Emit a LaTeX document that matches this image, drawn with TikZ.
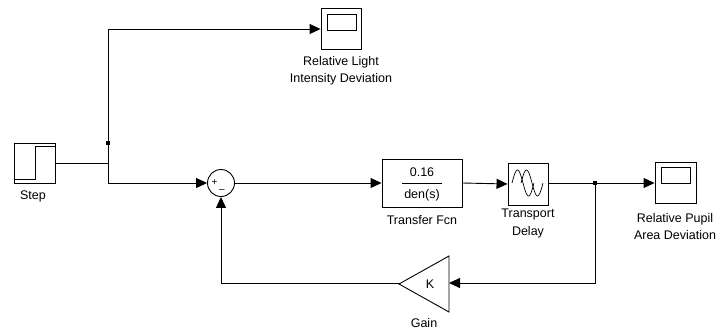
\documentclass[tikz,border=0pt]{standalone}
\usepackage{fontspec}
\setmainfont{Liberation Sans}
\usetikzlibrary{arrows.meta}
\begin{document}
\begin{tikzpicture}[x=1pt,y=-1pt,line width=0.9pt,
  blockbox/.style={draw,rectangle,inner sep=0pt},
  lbl/.style={font=\fontsize{12.5}{17.5}\selectfont,align=center,inner sep=0pt},
  conn/.style={-{Triangle[length=11pt 0,width=10pt 0]}},
  bdot/.style={fill,rectangle,minimum size=3.5pt,inner sep=0pt},
  icon/.style={line width=0.7pt}]
\useasboundingbox (0,0) rectangle (721,335);

% blocks
\node[blockbox,minimum width=41pt,minimum height=40pt] (step) at (34.5,163) {};
\draw[icon] (14,179) -- (35,179) -- (35,146) -- (55,146);
\node[lbl] (steplbl) at (33,196) {Step};

\node[blockbox,minimum width=40pt,minimum height=41pt] (sc1) at (341,29) {};
\draw[icon] (327,14) rectangle (356,30);
\node[lbl] (sc1lbl) at (341,71) {Relative Light\\Intensity Deviation};

\node[draw,circle,minimum size=27pt,inner sep=0pt] (sum) at (221,183) {};
\node[font=\fontsize{10}{10}\selectfont,inner sep=0pt] (plus) at (214.5,183) {+};
\node[font=\fontsize{10}{10}\selectfont,inner sep=0pt] (minus) at (222,191) {--};

\node[blockbox,minimum width=80pt,minimum height=48pt] (tf) at (422,183) {};
\node[lbl] (num) at (422,172) {0.16};
\draw[line width=0.8pt] (402,183) -- (442,183);
\node[lbl] (den) at (422,195.5) {den(s)};
\node[lbl] (tflbl) at (422,220) {Transfer Fcn};

\node[blockbox,minimum width=40pt,minimum height=42pt] (td) at (528,184) {};
\draw[icon,domain=0:360,samples=40,smooth] plot ({512+\x/360*22},{183-13*sin(\x)});
\draw[icon,domain=0:360,samples=40,smooth] plot ({521+\x/360*22},{183-13*sin(\x)});
\node[lbl] (tdlbl) at (528,223.5) {Transport\\Delay};

\node[blockbox,minimum width=41pt,minimum height=41pt] (sc2) at (675.5,182.5) {};
\draw[icon] (661,167) rectangle (690,183);
\node[lbl] (sc2lbl) at (675,226.5) {Relative Pupil\\Area Deviation};

\draw (449,256) -- (449,312) -- (399,284) -- cycle;
\coordinate (gainin) at (449,283);
\coordinate (gainout) at (400,283);
\node[lbl] (k) at (430,284) {K};
\node[lbl] (gainlbl) at (424,323) {Gain};

% connectors
\coordinate (bend1) at (108,163);
\coordinate (br1) at (108,143);
\draw (step.east) -- (bend1) -- (br1);
\draw[conn] (br1) |- (sc1.west);
\draw[conn] (br1) |- (sum.west);
\node[bdot] (dot1) at (br1) {};

\draw[conn] (sum.east) -- (tf.west);
\draw[conn] (tf.east) -- (td.west);
\coordinate (br2) at (595,183);
\draw[conn] (td.east |- br2) -- (sc2.west |- br2);
\node[bdot] (dot2) at (br2) {};
\draw[conn] (br2) |- (gainin);
\draw[conn] (gainout) -| (sum.south);
\end{tikzpicture}
\end{document}
